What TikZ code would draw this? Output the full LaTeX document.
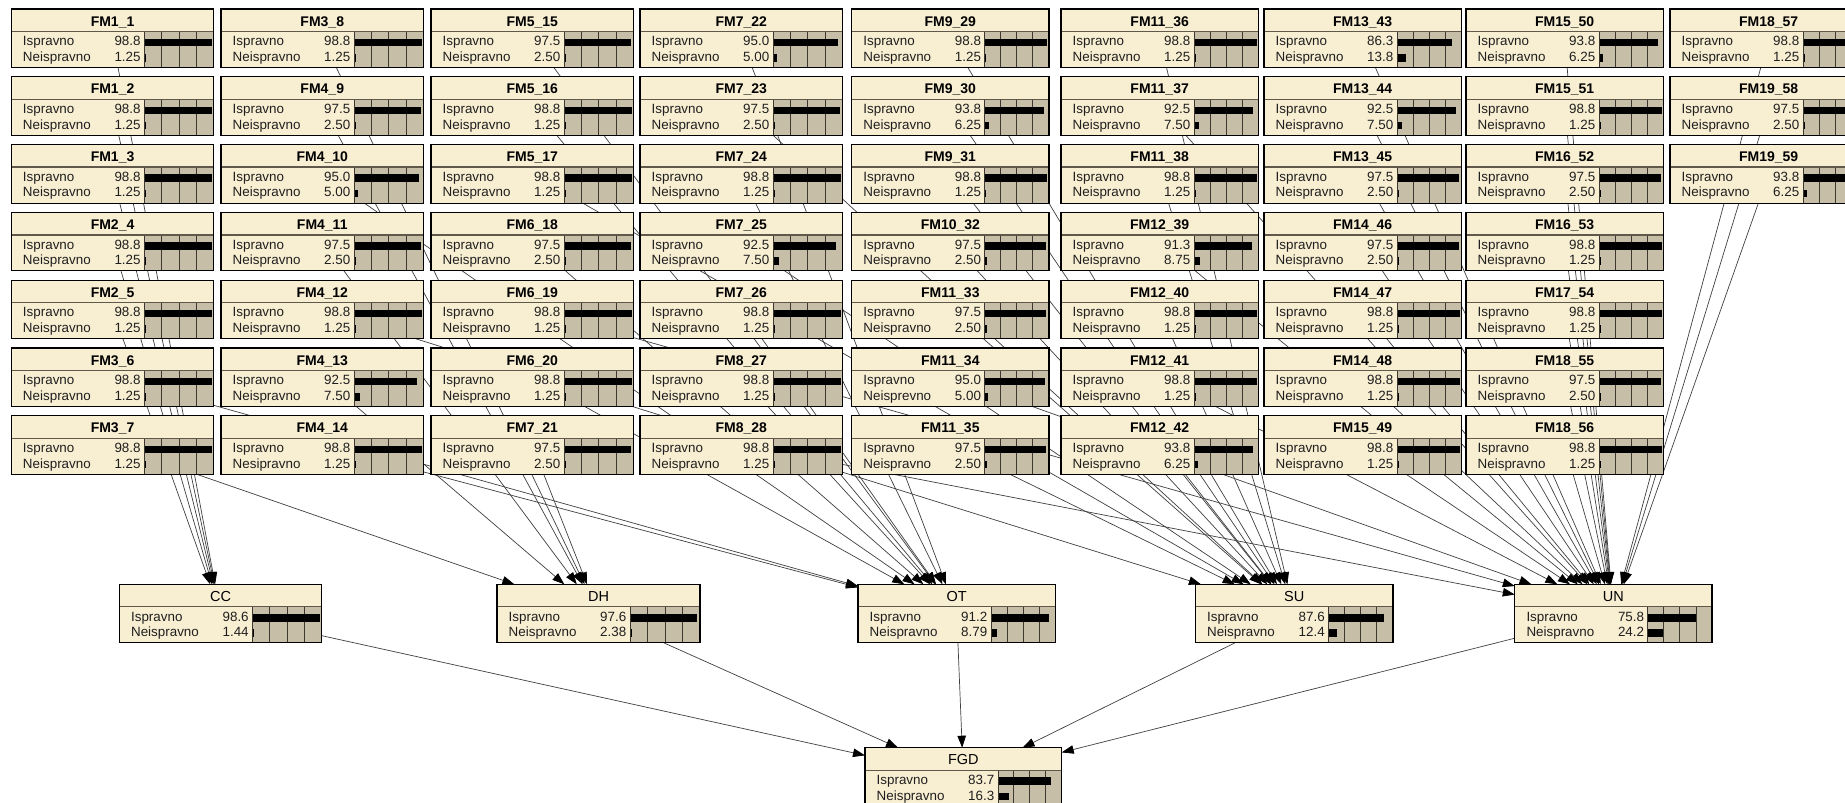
\documentclass[tikz,border=0pt]{standalone}
\usepackage{fontspec}
\setmainfont{Liberation Sans}
\usetikzlibrary{arrows.meta}
\definecolor{bncream}{RGB}{248,238,210}
\definecolor{bntan}{RGB}{199,190,168}
\definecolor{bngrid}{RGB}{60,56,48}
\definecolor{bnsep}{RGB}{95,88,75}
\pgfdeclarelayer{bg}
\pgfsetlayers{bg,main}
\tikzset{
 bnbox/.style={rectangle, fill=bncream, draw=none, inner sep=0pt, outer sep=0pt},
 bnlbl/.style={inner sep=0pt, font=\fontsize{13.4}{15}\selectfont, text=black!88},
 ttlb/.style={inner sep=0pt, font=\fontsize{14}{16}\selectfont\bfseries},
 ttln/.style={inner sep=0pt, font=\fontsize{14.5}{16}\selectfont},
 edge/.style={draw=black!75, line width=0.7pt, -{Triangle[length=12pt,width=8.5pt,color=black]}},
}
\newcommand\bn[9]{%
 \pgfmathsetmacro\bnbx{#2+133}%
 \pgfmathsetmacro\bnr{#2+#4}%
 \pgfmathsetmacro\bnq{(#4-133)/4}%
 \pgfmathsetmacro\bnla{#6*(#4-134.5)/100}%
 \pgfmathsetmacro\bnlb{#7*(#4-134.5)/100}%
 \node[bnbox, minimum width=#4pt, minimum height=58.5pt, anchor=north west] (#1) at (#2,#3) {};
 \fill[bntan] (\bnbx,#3+22.5) rectangle (\bnr,#3+58.5);
 \foreach \k in {1,2,3} \draw[bngrid, line width=0.9pt] (\bnbx+\k*\bnq,#3+22.5) -- (\bnbx+\k*\bnq,#3+58.5);
 \draw[bngrid, line width=0.8pt] (\bnbx,#3+22.5) -- (\bnbx,#3+58.5);
 \fill[black] (\bnbx+0.5,#3+29.7) rectangle ++(\bnla,7.5);
 \fill[black] (\bnbx+0.5,#3+45) rectangle ++(\bnlb,7.5);
 \draw[bnsep, line width=1.3pt] (#2,#3+22.5) -- (\bnr,#3+22.5);
 \draw[black, line width=1.1pt] (#2,#3) rectangle (\bnr,#3+58.5);
 \node[#9, anchor=base] (#1-t) at (#2+#4/2,#3+17) {#5};
 \node[bnlbl, anchor=base west] (#1-a) at (#2+11.5,#3+36.7) {Ispravno};
 \node[bnlbl, anchor=base west] (#1-b) at (#2+11.5,#3+52.3) {#8};
 \node[bnlbl, anchor=base east] (#1-c) at (#2+129.5,#3+36.7) {#6};
 \node[bnlbl, anchor=base east] (#1-d) at (#2+129.5,#3+52.3) {#7};
}
\begin{document}
\begin{tikzpicture}[x=1pt,y=-1pt]
\useasboundingbox (0,0) rectangle (1845,803);
\clip (0,0) rectangle (1845,803);
% column 1
\bn{f1}{11.3}{9}{202.5}{FM1\_1}{98.8}{1.25}{Neispravno}{ttlb}
\bn{f2}{11.3}{76.8}{202.5}{FM1\_2}{98.8}{1.25}{Neispravno}{ttlb}
\bn{f3}{11.3}{144.6}{202.5}{FM1\_3}{98.8}{1.25}{Neispravno}{ttlb}
\bn{f4}{11.3}{212.4}{202.5}{FM2\_4}{98.8}{1.25}{Neispravno}{ttlb}
\bn{f5}{11.3}{280.2}{202.5}{FM2\_5}{98.8}{1.25}{Neispravno}{ttlb}
\bn{f6}{11.3}{348}{202.5}{FM3\_6}{98.8}{1.25}{Neispravno}{ttlb}
\bn{f7}{11.3}{415.8}{202.5}{FM3\_7}{98.8}{1.25}{Neispravno}{ttlb}
% column 2
\bn{f8}{221}{9}{202.5}{FM3\_8}{98.8}{1.25}{Neispravno}{ttlb}
\bn{f9}{221}{76.8}{202.5}{FM4\_9}{97.5}{2.50}{Neispravno}{ttlb}
\bn{f10}{221}{144.6}{202.5}{FM4\_10}{95.0}{5.00}{Neispravno}{ttlb}
\bn{f11}{221}{212.4}{202.5}{FM4\_11}{97.5}{2.50}{Neispravno}{ttlb}
\bn{f12}{221}{280.2}{202.5}{FM4\_12}{98.8}{1.25}{Neispravno}{ttlb}
\bn{f13}{221}{348}{202.5}{FM4\_13}{92.5}{7.50}{Neispravno}{ttlb}
\bn{f14}{221}{415.8}{202.5}{FM4\_14}{98.8}{1.25}{Nesipravno}{ttlb}
% column 3
\bn{f15}{431}{9}{202.5}{FM5\_15}{97.5}{2.50}{Neispravno}{ttlb}
\bn{f16}{431}{76.8}{202.5}{FM5\_16}{98.8}{1.25}{Neispravno}{ttlb}
\bn{f17}{431}{144.6}{202.5}{FM5\_17}{98.8}{1.25}{Neispravno}{ttlb}
\bn{f18}{431}{212.4}{202.5}{FM6\_18}{97.5}{2.50}{Neispravno}{ttlb}
\bn{f19}{431}{280.2}{202.5}{FM6\_19}{98.8}{1.25}{Neispravno}{ttlb}
\bn{f20}{431}{348}{202.5}{FM6\_20}{98.8}{1.25}{Neispravno}{ttlb}
\bn{f21}{431}{415.8}{202.5}{FM7\_21}{97.5}{2.50}{Neispravno}{ttlb}
% column 4
\bn{f22}{640}{9}{202.5}{FM7\_22}{95.0}{5.00}{Neispravno}{ttlb}
\bn{f23}{640}{76.8}{202.5}{FM7\_23}{97.5}{2.50}{Neispravno}{ttlb}
\bn{f24}{640}{144.6}{202.5}{FM7\_24}{98.8}{1.25}{Neispravno}{ttlb}
\bn{f25}{640}{212.4}{202.5}{FM7\_25}{92.5}{7.50}{Neispravno}{ttlb}
\bn{f26}{640}{280.2}{202.5}{FM7\_26}{98.8}{1.25}{Neispravno}{ttlb}
\bn{f27}{640}{348}{202.5}{FM8\_27}{98.8}{1.25}{Neispravno}{ttlb}
\bn{f28}{640}{415.8}{202.5}{FM8\_28}{98.8}{1.25}{Neispravno}{ttlb}
% column 5
\bn{f29}{851.7}{9}{197.3}{FM9\_29}{98.8}{1.25}{Neispravno}{ttlb}
\bn{f30}{851.7}{76.8}{197.3}{FM9\_30}{93.8}{6.25}{Neispravno}{ttlb}
\bn{f31}{851.7}{144.6}{197.3}{FM9\_31}{98.8}{1.25}{Neispravno}{ttlb}
\bn{f32}{851.7}{212.4}{197.3}{FM10\_32}{97.5}{2.50}{Neispravno}{ttlb}
\bn{f33}{851.7}{280.2}{197.3}{FM11\_33}{97.5}{2.50}{Neispravno}{ttlb}
\bn{f34}{851.7}{348}{197.3}{FM11\_34}{95.0}{5.00}{Neisprevno}{ttlb}
\bn{f35}{851.7}{415.8}{197.3}{FM11\_35}{97.5}{2.50}{Neispravno}{ttlb}
% column 6
\bn{f36}{1061}{9}{197.3}{FM11\_36}{98.8}{1.25}{Neispravno}{ttlb}
\bn{f37}{1061}{76.8}{197.3}{FM11\_37}{92.5}{7.50}{Neispravno}{ttlb}
\bn{f38}{1061}{144.6}{197.3}{FM11\_38}{98.8}{1.25}{Neispravno}{ttlb}
\bn{f39}{1061}{212.4}{197.3}{FM12\_39}{91.3}{8.75}{Neispravno}{ttlb}
\bn{f40}{1061}{280.2}{197.3}{FM12\_40}{98.8}{1.25}{Neispravno}{ttlb}
\bn{f41}{1061}{348}{197.3}{FM12\_41}{98.8}{1.25}{Neispravno}{ttlb}
\bn{f42}{1061}{415.8}{197.3}{FM12\_42}{93.8}{6.25}{Neispravno}{ttlb}
% column 7
\bn{f43}{1264}{9}{197.3}{FM13\_43}{86.3}{13.8}{Neispravno}{ttlb}
\bn{f44}{1264}{76.8}{197.3}{FM13\_44}{92.5}{7.50}{Neispravno}{ttlb}
\bn{f45}{1264}{144.6}{197.3}{FM13\_45}{97.5}{2.50}{Neispravno}{ttlb}
\bn{f46}{1264}{212.4}{197.3}{FM14\_46}{97.5}{2.50}{Neispravno}{ttlb}
\bn{f47}{1264}{280.2}{197.3}{FM14\_47}{98.8}{1.25}{Neispravno}{ttlb}
\bn{f48}{1264}{348}{197.3}{FM14\_48}{98.8}{1.25}{Neispravno}{ttlb}
\bn{f49}{1264}{415.8}{197.3}{FM15\_49}{98.8}{1.25}{Neispravno}{ttlb}
% column 8
\bn{f50}{1466}{9}{197.3}{FM15\_50}{93.8}{6.25}{Neispravno}{ttlb}
\bn{f51}{1466}{76.8}{197.3}{FM15\_51}{98.8}{1.25}{Neispravno}{ttlb}
\bn{f52}{1466}{144.6}{197.3}{FM16\_52}{97.5}{2.50}{Neispravno}{ttlb}
\bn{f53}{1466}{212.4}{197.3}{FM16\_53}{98.8}{1.25}{Neispravno}{ttlb}
\bn{f54}{1466}{280.2}{197.3}{FM17\_54}{98.8}{1.25}{Neispravno}{ttlb}
\bn{f55}{1466}{348}{197.3}{FM18\_55}{97.5}{2.50}{Neispravno}{ttlb}
\bn{f56}{1466}{415.8}{197.3}{FM18\_56}{98.8}{1.25}{Neispravno}{ttlb}
% column 9
\bn{f57}{1670}{9}{197.3}{FM18\_57}{98.8}{1.25}{Neispravno}{ttlb}
\bn{f58}{1670}{76.8}{197.3}{FM19\_58}{97.5}{2.50}{Neispravno}{ttlb}
\bn{f59}{1670}{144.6}{197.3}{FM19\_59}{93.8}{6.25}{Neispravno}{ttlb}
% subsystem nodes
\bn{cc}{119.4}{584.3}{202.3}{CC}{98.6}{1.44}{Neispravno}{ttln}
\bn{dh}{497}{584.3}{203}{DH}{97.6}{2.38}{Neispravno}{ttln}
\bn{ot}{858}{584.3}{197.5}{OT}{91.2}{8.79}{Neispravno}{ttln}
\bn{su}{1195.4}{584.3}{197.6}{SU}{87.6}{12.4}{Neispravno}{ttln}
\bn{un}{1514.8}{584.3}{197.2}{UN}{75.8}{24.2}{Neispravno}{ttln}
\bn{fgd}{865}{747.7}{196.7}{FGD}{83.7}{16.3}{Neispravno}{ttln}
\begin{pgfonlayer}{bg}
\fill[white] (0,0) rectangle (1845,803);
\foreach \i in {1,2,3,4,5} \draw[edge] (f\i) -- (cc);
\foreach \i in {7,8,9,11,13,21} \draw[edge] (f\i) -- (dh);
\foreach \i in {6,10,14,15,16,18,20,22,24,26,27} \draw[edge] (f\i) -- (ot);
\foreach \i in {12,17,23,25,29,30,31,32,33,35,36,38,40,42} \draw[edge] (f\i) -- (su);
\foreach \i in {19,28,34,37,39,41,43,44,45,46,47,48,49,50,51,52,53,54,55,56,57,58,59} \draw[edge] (f\i) -- (un);
\foreach \n in {cc,dh,ot,su,un} \draw[edge] (\n) -- (fgd);
\end{pgfonlayer}
\end{tikzpicture}
\end{document}
